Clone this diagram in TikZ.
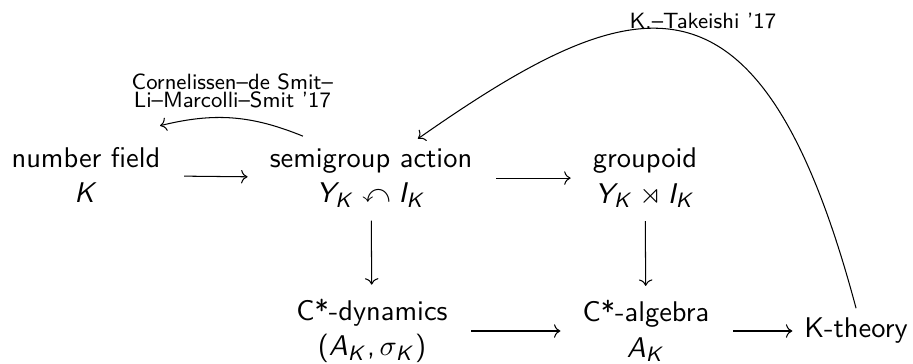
\documentclass[tikz,border=0pt,11pt]{standalone}
\usepackage{amssymb}
\usetikzlibrary{arrows.meta}
\renewcommand{\familydefault}{\sfdefault}
% sans italic letters for the maths
\DeclareSymbolFont{sfitalic}{OT1}{cmss}{m}{sl}
\DeclareMathSymbol{A}{\mathalpha}{sfitalic}{`A}
\DeclareMathSymbol{I}{\mathalpha}{sfitalic}{`I}
\DeclareMathSymbol{K}{\mathalpha}{sfitalic}{`K}
\DeclareMathSymbol{Y}{\mathalpha}{sfitalic}{`Y}
\DeclareSymbolFont{sfup}{OT1}{cmss}{m}{n}
\DeclareMathDelimiter{(}{\mathopen}{sfup}{"28}{largesymbols}{"00}
\DeclareMathDelimiter{)}{\mathclose}{sfup}{"29}{largesymbols}{"01}
\DeclareMathSymbol{,}{\mathpunct}{sfup}{"2C}
\begin{document}
\begin{tikzpicture}[
  obj/.style={align=center},
  arr/.style={-{Computer Modern Rightarrow},line width=.4pt,shorten <=5.3pt,shorten >=4.7pt},
  varr/.style={arr,shorten <=1.2pt,shorten >=1.7pt},
  bent/.style={-{Computer Modern Rightarrow},line width=.4pt},
  cite/.style={align=center,font=\fontsize{8.5}{7}\selectfont}]
  \useasboundingbox (0,0) rectangle (12.341,4.907);
  % top row
  \node[obj] (nf) at (1.162,2.54) {number field\\$K$};
  \node[obj] (sg) at (5.015,2.50) {semigroup action\\$Y_K \curvearrowleft I_K$};
  \node[obj] (gp) at (8.718,2.50) {groupoid\\$Y_K \rtimes I_K$};
  % bottom row
  \node[obj] (cd) at (5.028,0.433) {C*-dynamics\\$(A_K,\sigma_K)$};
  \node[obj] (ca) at (8.732,0.433) {C*-algebra\\$A_K$};
  \node[obj] (kt) at (11.571,0.433) {K-theory};
  \draw[arr] (nf) -- (sg);
  \draw[arr] (sg) -- (gp);
  \draw[arr] (cd) -- (ca);
  \draw[arr,shorten >=0.8pt] (ca) -- (kt);
  \draw[varr] (sg) -- (cd);
  \draw[varr] (gp) -- (ca);
  \coordinate (nftop) at ([yshift=4.5pt]nf.27);
  \draw[bent] ([yshift=1pt]sg.150) to[bend right=18]
    node[cite,above] {Cornelissen--de Smit--\\Li--Marcolli--Smit '17} (nftop);
  \draw[bent] (kt.north) .. controls +(-1.30,4.87) and +(2.93,2.05) .. (sg.40)
    node[cite,pos=0.45,above] {K.--Takeishi '17};
\end{tikzpicture}
\end{document}
